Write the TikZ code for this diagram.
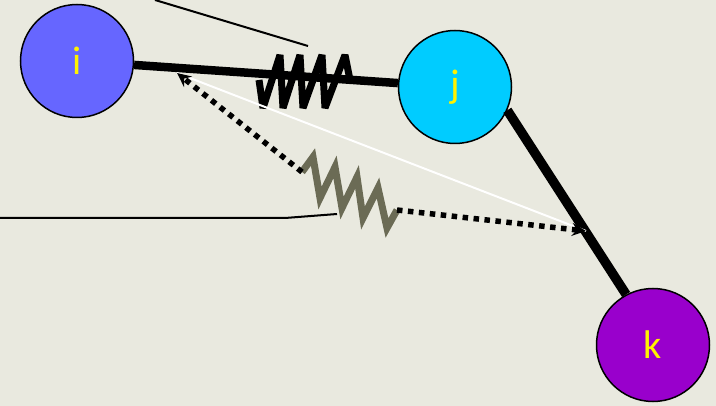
\documentclass[tikz,border=0pt]{standalone}
\usepackage{fontspec}
\setmainfont{Carlito}
\usepackage{xcolor}
\usetikzlibrary{arrows.meta, calc}

\definecolor{bgpaper}{HTML}{E9E9DF}
\definecolor{atomi}{HTML}{6666FF}
\definecolor{atomj}{HTML}{00CCFF}
\definecolor{atomk}{HTML}{9900CC}
\definecolor{springgray}{HTML}{6B6B55}

\begin{document}
\begin{tikzpicture}[
    x=1pt, y=-1pt,
    atom/.style={circle, draw, line width=1.5pt, minimum size=113pt,
      inner sep=0pt, text=yellow, font=\fontsize{40}{40}\selectfont},
    bond/.style={line width=8.5pt},
    spring/.style={line width=7pt, line join=bevel},
    leader/.style={line width=2pt},
    force/.style={line width=5.5pt, dash pattern=on 5.5pt off 5.5pt,
      -{Stealth[length=14pt, width=13pt, inset=5pt]}}
]
\fill[bgpaper] (0,0) rectangle (716,406);
\useasboundingbox (0,0) rectangle (716,406);

\node[atom, fill=atomi] (i) at (77,61) {i};
\node[atom, fill=atomj] (j) at (455,87) {j};
\node[atom, fill=atomk] (k) at (653,345) {k};

% bonds
\draw[bond] (i) -- (j);
\draw[bond, line width=9.5pt] (j.-24) -- (k.118);

% bond spring
\draw[spring, line width=7pt] (259,80) -- (263,108) -- (280,55) -- (283,108)
  -- (300,55) -- (303,108) -- (322,55) -- (325,108) -- (345,55) -- (350,80);

% nonbonded interaction
\coordinate (nbi) at (177,73);
\coordinate (nbk) at (586,231);
\coordinate (s1) at (302,172);
\coordinate (s2) at (397,210);
\draw[white, line width=2pt] (nbi) -- (nbk);
\draw[spring, springgray, line join=miter] (s1) -- (313,157) -- (320,198) -- (335,167)
  -- (342,208) -- (357,177) -- (363,218) -- (378,188) -- (387,228) -- (s2);
\draw[force] (s1) -- (nbi);
\draw[force] (s2) -- (nbk);

% leader lines
\coordinate (la) at (155,0);
\coordinate (lb) at (308,46);
\coordinate (lc) at (0,218);
\coordinate (ld) at (285,218);
\coordinate (le) at (337,214);
\draw[leader] (la) -- (lb);
\draw[leader] (lc) -- (ld) -- (le);

\end{tikzpicture}
\end{document}
